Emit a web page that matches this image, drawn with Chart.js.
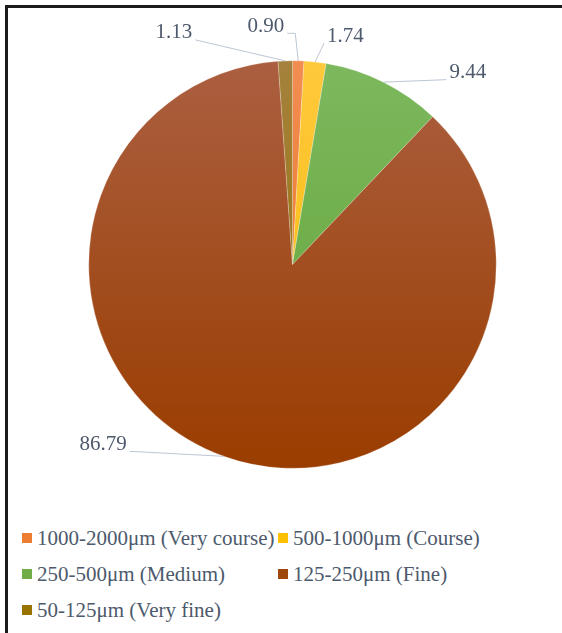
<!DOCTYPE html>
<html>
<head>
<meta charset="utf-8">
<title>Particle size distribution</title>
<script src="https://cdn.jsdelivr.net/npm/chart.js@4.4.0/dist/chart.umd.min.js"></script>
<style>
  html, body { margin: 0; padding: 0; background: #fff; }
  #frame { position: relative; width: 562px; height: 633px; overflow: hidden; }
  #border { position: absolute; left: 5px; top: 5px; width: 600px; height: 700px;
            border-top: 3px solid #1c1c1c; border-left: 3px solid #1c1c1c; }
  #chart { position: absolute; left: 0; top: 0; }
  #legend { position: absolute; left: 22px; top: 520px; display: grid;
            grid-template-columns: 256px auto; grid-auto-rows: 36px;
            font: 21px 'Liberation Serif', 'Times New Roman', serif; color: #4d596c; }
  .item { display: flex; align-items: center; white-space: nowrap; }
  .box { width: 10px; height: 10px; margin-right: 5px; }
</style>
</head>
<body>
<div id="frame">
  <div id="border"></div>
  <canvas id="chart" width="562" height="500"></canvas>
  <div id="legend"></div>
</div>
<script>
(function () {
  'use strict';

  // data
  var categories = ['1000-2000\u03bcm (Very course)', '500-1000\u03bcm (Course)',
                    '250-500\u03bcm (Medium)', '125-250\u03bcm (Fine)', '50-125\u03bcm (Very fine)'];
  var values = [0.90, 1.74, 9.44, 86.79, 1.13];

  // colours: legend swatch, gradient top, gradient bottom
  var BASE = ['#ED7D31', '#FFC000', '#70AD47', '#9E480E', '#997300'];
  var TOP = ['#F28D52', '#FFC93D', '#7DB85E', '#AB5F40', '#A5823C'];
  var BOTTOM = ['#E8701E', '#F5B800', '#60A434', '#9A3D00', '#906C00'];
  var TEXT = '#4d596c';
  var LINE = '#bcc6d4';

  // leader line knee offsets from slice edge, and horizontal tail
  var KNEE = [[-3, -27.5], [9, -19], [63, -2.5], [-94, -5], [-90, -21]];
  var TAIL = [-8, 0, 0, 0, 0];

  var leaderLabels = {
    id: 'leaderLabels',
    afterDatasetsDraw: function (chart) {
      var ctx = chart.ctx;
      var meta = chart.getDatasetMeta(0);
      ctx.save();
      ctx.font = '21px "Liberation Serif", "Times New Roman", serif';
      ctx.fillStyle = TEXT;
      ctx.strokeStyle = LINE;
      ctx.lineWidth = 1;
      ctx.textBaseline = 'middle';
      meta.data.forEach(function (arc, i) {
        var p = arc.getProps(['x', 'y', 'startAngle', 'endAngle', 'outerRadius'], true);
        var mid = (p.startAngle + p.endAngle) / 2;
        var ax = p.x + Math.cos(mid) * p.outerRadius;
        var ay = p.y + Math.sin(mid) * p.outerRadius;
        var kx = ax + KNEE[i][0], ky = ay + KNEE[i][1];
        var ex = kx + TAIL[i];
        ctx.beginPath();
        ctx.moveTo(ax, ay);
        ctx.lineTo(kx, ky);
        if (TAIL[i]) ctx.lineTo(ex, ky);
        ctx.stroke();
        var left = ex < ax;
        ctx.textAlign = left ? 'right' : 'left';
        ctx.fillText(values[i].toFixed(2), left ? ex - 3 : ex + 3, ky - 7);
      });
      ctx.restore();
    }
  };

  function fill(context) {
    var area = context.chart.chartArea;
    var i = context.dataIndex;
    if (!area) return BASE[i];
    var g = context.chart.ctx.createLinearGradient(0, area.top, 0, area.bottom);
    g.addColorStop(0, TOP[i]);
    g.addColorStop(1, BOTTOM[i]);
    return g;
  }

  new Chart(document.getElementById('chart').getContext('2d'), {
    type: 'pie',
    data: {
      labels: categories,
      datasets: [{
        data: values,
        backgroundColor: fill,
        borderColor: 'rgba(255,255,255,0.45)',
        borderWidth: 0.5
      }]
    },
    options: {
      responsive: false,
      animation: false,
      layout: { padding: { top: 60.5, bottom: 31.5, left: 88.5, right: 65.5 } },
      plugins: { legend: { display: false }, tooltip: { enabled: false } }
    },
    plugins: [leaderLabels]
  });

  // legend
  var html = '';
  categories.forEach(function (c, i) {
    html += '<div class="item"><span class="box" style="background:' + BASE[i] + '"></span>' + c + '</div>';
  });
  document.getElementById('legend').innerHTML = html;
})();
</script>
</body>
</html>
